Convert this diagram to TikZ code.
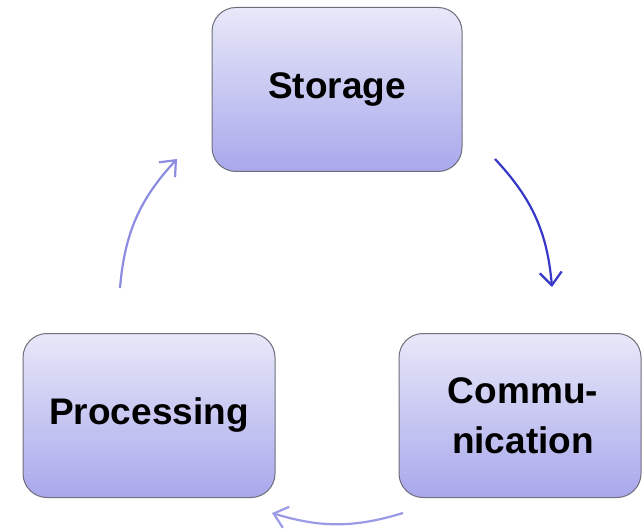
\documentclass[tikz,border=0pt]{standalone}
\usepackage{fontspec}
\setmainfont{Liberation Sans}
\usetikzlibrary{arrows.meta}
\definecolor{boxtop}{RGB}{232,232,249}
\definecolor{boxbot}{RGB}{168,168,236}
\definecolor{boxline}{RGB}{110,110,122}
\definecolor{arrdark}{RGB}{55,55,200}
\definecolor{arrmid}{RGB}{140,140,224}
\definecolor{arrlight}{RGB}{154,154,230}
\begin{document}
\begin{tikzpicture}[x=1pt,y=1pt,
  stage/.style={draw=boxline, line width=1pt, rounded corners=24pt,
    top color=boxtop, bottom color=boxbot, minimum height=164pt,
    align=center, font=\bfseries\fontsize{37}{50}\selectfont, inner sep=0pt},
  cyc/.style={line width=2.2pt, -{Straight Barb[length=13pt,width=22pt,line width=2.2pt]}}]
\useasboundingbox (0,0) rectangle (642,528);
% the three stages of the cycle
\node[stage, minimum width=250pt] (sto) at (337,438.5) {Storage};
\node[stage, minimum width=242pt] (com) at (520,112.5) {\hspace*{6pt}Commu-\\\hspace*{6pt}nication};
\node[stage, minimum width=252pt] (pro) at (149,112.5) {Processing};
% arc end points between the stages
\coordinate (s1) at (495,369);
\coordinate (c1) at (552,241);
\coordinate (c2) at (403,15);
\coordinate (p2) at (272,15);
\coordinate (p3) at (120,240);
\coordinate (s3) at (177,369);
\draw[cyc, arrdark] (s1) to[bend left=19] (c1);
\draw[cyc, arrlight] (c2) to[bend left=17] (p2);
\draw[cyc, arrmid] (p3) to[bend left=19] (s3);
\end{tikzpicture}
\end{document}
